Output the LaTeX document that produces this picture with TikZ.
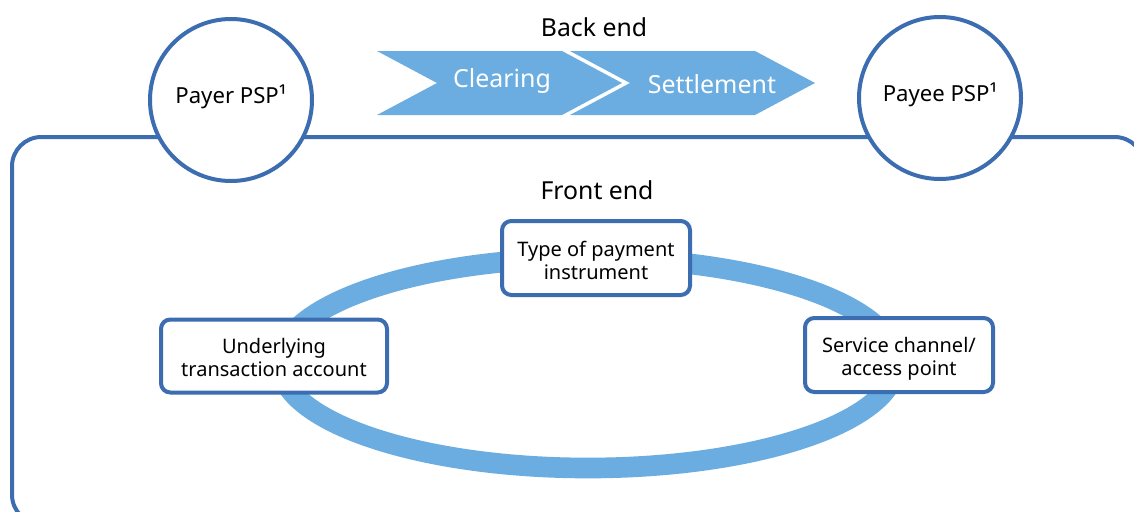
\documentclass[tikz,border=0pt]{standalone}
\usepackage{fontspec}
\setmainfont{Noto Sans}
\definecolor{dblue}{HTML}{3B6DB0}
\definecolor{lblue}{HTML}{6BADE0}
\newcommand{\lowered}[2]{\raisebox{#1}[\height][\depth]{\begin{tabular}{@{}c@{}}#2\end{tabular}}}
\begin{document}
\begin{tikzpicture}[x=0.75pt,y=-0.75pt,
  psp/.style={circle,draw=dblue,line width=3pt,fill=white,minimum size=162*0.75pt,inner sep=0pt,font=\fontsize{16.6}{19}\selectfont},
  fbox/.style={rectangle,draw=dblue,line width=3pt,fill=white,rounded corners=7pt,align=center,inner sep=0pt,font=\fontsize{15}{17.3}\selectfont},
  chev/.style={fill=lblue},
  chevtext/.style={text=white,font=\fontsize{18.7}{21}\selectfont},
  title/.style={font=\fontsize{18.6}{21}\selectfont},
  ring/.style={draw=lblue,line width=15.5pt}]
\useasboundingbox (0,0) rectangle (1134,511);
\clip (0,0) rectangle (1134,511);
% front-end frame
\draw[dblue,line width=3pt,rounded corners=22pt] (12,137) rectangle (1144,524);
% back-end chevrons
\fill[chev] (377,51) -- (562,51) -- (622,83) -- (562,115) -- (377,115) -- (437,83) -- cycle;
\fill[chev] (570,51) -- (755,51) -- (815,83) -- (755,115) -- (570,115) -- (630,83) -- cycle;
\node[chevtext] (clearing) at (502,81) {Clearing};
\node[chevtext] (settlement) at (712,84) {Settlement};
\node[title] (backend) at (594,27) {Back end};
\node[title] (frontend) at (597,190) {Front end};
% PSP circles
\node[psp] (payer) at (231,100) {\raisebox{2.5pt}[\height][\depth]{Payer PSP¹}};
\node[psp] (payee) at (940,98) {\raisebox{2.5pt}[\height][\depth]{Payee PSP¹}};
% ring
\draw[ring] (588,363) ellipse [x radius=308, y radius=105];
% boxes
\node[fbox,minimum width=188*0.75pt,minimum height=74*0.75pt] (type) at (596,258) {\lowered{-4pt}{Type of payment\\instrument}};
\node[fbox,minimum width=226*0.75pt,minimum height=73*0.75pt] (account) at (274,356) {\lowered{-3pt}{Underlying\\transaction account}};
\node[fbox,minimum width=188*0.75pt,minimum height=74*0.75pt] (channel) at (899,355) {\lowered{-3.5pt}{Service channel/\\access point}};
\end{tikzpicture}
\end{document}
